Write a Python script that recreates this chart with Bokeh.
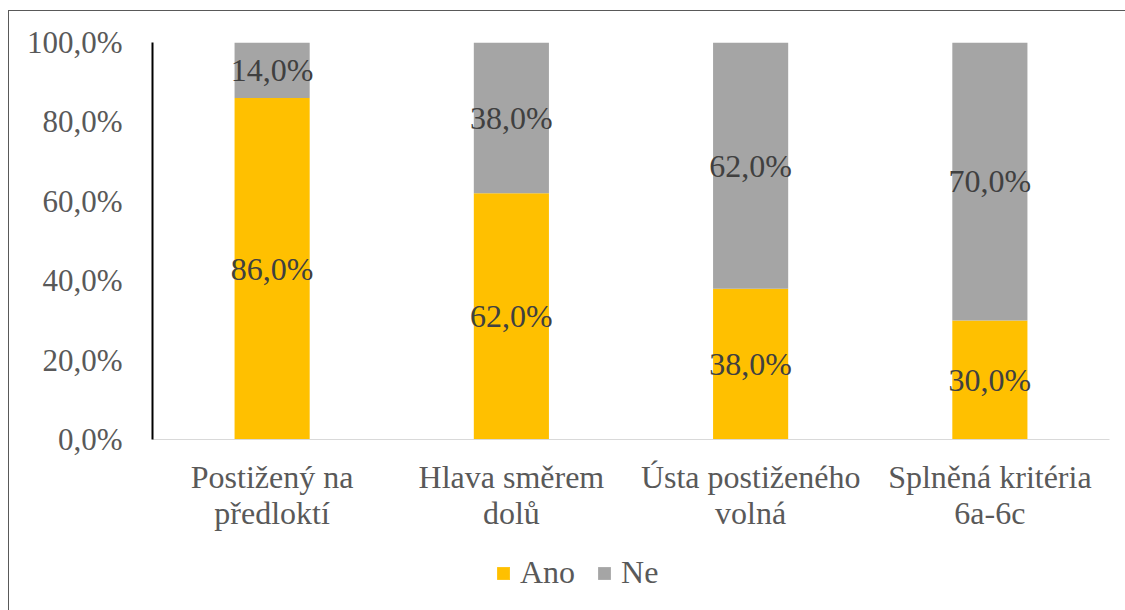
from bokeh.plotting import figure
from bokeh.layouts import column
from bokeh.models import FixedTicker, Legend, LegendItem, ColumnDataSource, LabelSet, Range1d
from bokeh.embed import file_html
from bokeh.resources import INLINE

categories = ["Postižený na\npředloktí", "Hlava směrem\ndolů", "Ústa postiženého\nvolná", "Splněná kritéria\n6a-6c"]
series = ["Ano", "Ne"]
colors = ["#FFC000", "#A5A5A5"]
ano = [0.86, 0.62, 0.38, 0.30]
ne = [0.14, 0.38, 0.62, 0.70]
ano_labels = ["86,0%", "62,0%", "38,0%", "30,0%"]
ne_labels = ["14,0%", "38,0%", "62,0%", "70,0%"]
y_ticks = [0.0, 0.2, 0.4, 0.6, 0.8, 1.0]
y_tick_labels = ["0,0%", "20,0%", "40,0%", "60,0%", "80,0%", "100,0%"]

FONT = "Liberation Serif"
FS = "32px"
W = 1116

src = ColumnDataSource(dict(
    cat=categories, ano=ano, ne=ne,
    ano_mid=[a / 2 for a in ano],
    ne_mid=[a + n / 2 for a, n in zip(ano, ne)],
    ano_lab=ano_labels, ne_lab=ne_labels,
))

p = figure(x_range=categories, y_range=(0, 1), width=W, height=540,
           output_backend="svg", toolbar_location=None,
           min_border_left=143, min_border_top=31, min_border_right=16, min_border_bottom=112)

p.vbar_stack(["ano", "ne"], x="cat", width=0.314, source=src,
             color=colors, line_color=None)

for col, lab in (("ano_mid", "ano_lab"), ("ne_mid", "ne_lab")):
    ls = LabelSet(x="cat", y=col, text=lab, source=src, text_align="center",
                  text_baseline="middle", text_font=FONT, text_font_size=FS,
                  text_color="#404040")
    p.add_layout(ls)

p.grid.visible = False
p.outline_line_color = None

ya = p.yaxis[0]
ya.ticker = FixedTicker(ticks=y_ticks)
ya.major_label_overrides = {t: l for t, l in zip(y_ticks, y_tick_labels)}
ya.major_tick_line_color = None
ya.minor_tick_line_color = None
ya.major_tick_out = 0
ya.major_label_standoff = 30
ya.axis_line_color = "black"
ya.axis_line_width = 2
ya.major_label_text_font = FONT
ya.major_label_text_font_size = "31px"
ya.major_label_text_color = "#595959"

xa = p.xaxis[0]
xa.major_tick_line_color = None
xa.major_tick_out = 0
xa.axis_line_color = "#D9D9D9"
xa.axis_line_width = 1
xa.major_label_standoff = 19
xa.major_label_text_font = FONT
xa.major_label_text_font_size = FS
xa.major_label_text_color = "#595959"
xa.major_label_text_line_height = 1.0

# legend panel: same series drawn outside its visible range, only the legend shows
lg = figure(x_range=categories, y_range=Range1d(2, 3), width=W, height=59,
            output_backend="svg", toolbar_location=None,
            x_axis_location=None, y_axis_location=None,
            min_border=0, min_border_left=0, min_border_right=0,
            min_border_top=0, min_border_bottom=0)
lg.grid.visible = False
lg.outline_line_color = None
lrs = lg.vbar_stack(["ano", "ne"], x="cat", width=0.314, source=src,
                    color=colors, line_color=None)
items = [LegendItem(label=name, renderers=[r]) for name, r in zip(series, lrs)]
legend = Legend(items=items, orientation="horizontal", location=(343, 19),
                glyph_width=16, glyph_height=16, label_standoff=9, spacing=21,
                padding=0, margin=0, border_line_color=None, background_fill_alpha=0,
                label_text_font=FONT, label_text_font_size=FS,
                label_text_color="#595959")
lg.add_layout(legend)

inner = column(p, lg, spacing=0)
inner.styles = {"border-top": "1px solid #595959", "border-left": "1px solid #595959"}
inner.margin = (10, 0, 0, 8)
outer = column(inner)

open("out.html", "w").write(file_html(outer, INLINE))
